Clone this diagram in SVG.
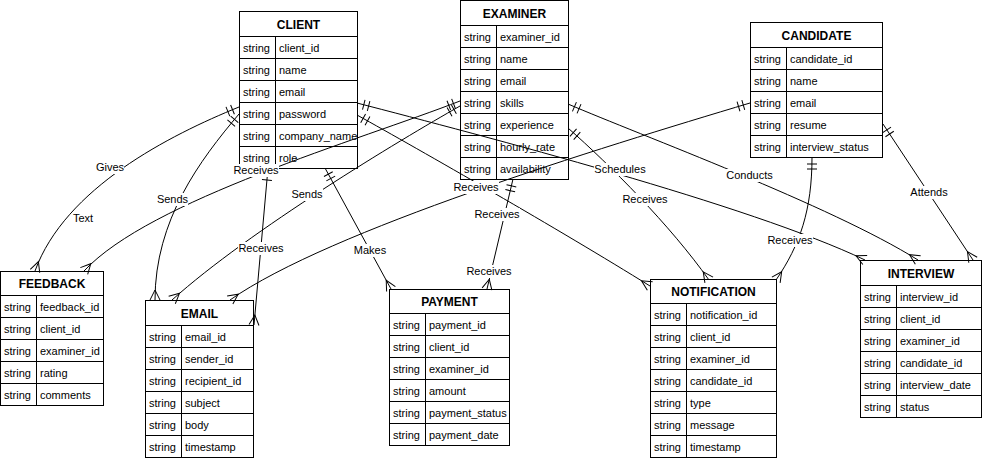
<svg xmlns="http://www.w3.org/2000/svg" width="983" height="459" viewBox="0 0 983 459">
<style>
.box{fill:#fff;stroke:#000;stroke-width:1}
.ln{stroke:#000;stroke-width:1;fill:none}
.hd{font-family:"Liberation Sans",Arial,Helvetica,sans-serif;font-size:12px;font-weight:bold;fill:#000;text-anchor:middle}
.tx{font-family:"Liberation Sans",Arial,Helvetica,sans-serif;font-size:11px;fill:#000}
.edge{stroke:#000;stroke-width:1;fill:none;marker-start:url(#one);marker-end:url(#many)}
.lb{font-family:"Liberation Sans",Arial,Helvetica,sans-serif;font-size:11px;fill:#000;text-anchor:middle}
.lbg{fill:#fff;stroke:none}
</style>
<defs>
<marker id="one" markerWidth="30" markerHeight="30" refX="0" refY="0" orient="auto" markerUnits="userSpaceOnUse" style="overflow:visible">
<path d="M7,-5 V5 M12,-5 V5" stroke="#000" stroke-width="1" fill="none"/>
</marker>
<marker id="many" markerWidth="30" markerHeight="30" refX="0" refY="0" orient="auto" markerUnits="userSpaceOnUse" style="overflow:visible">
<path d="M0,-5 L-10,0 L0,5" stroke="#000" stroke-width="1" fill="none"/>
</marker>
</defs>
<rect width="983" height="459" fill="#fff"/>

<g id="client">
<rect class="box" x="239.5" y="11.5" width="118" height="157"/>
<path class="ln" d="M239.5,36.5H357.5M239.5,58.5H357.5M239.5,80.5H357.5M239.5,102.5H357.5M239.5,124.5H357.5M239.5,146.5H357.5M275.5,36.5V168.5"/>
<text class="hd" x="298.5" y="28.5">CLIENT</text>
<text class="tx" x="243" y="52">string</text><text class="tx" x="279" y="52">client_id</text>
<text class="tx" x="243" y="74">string</text><text class="tx" x="279" y="74">name</text>
<text class="tx" x="243" y="96">string</text><text class="tx" x="279" y="96">email</text>
<text class="tx" x="243" y="118">string</text><text class="tx" x="279" y="118">password</text>
<text class="tx" x="243" y="140">string</text><text class="tx" x="279" y="140">company_name</text>
<text class="tx" x="243" y="162">string</text><text class="tx" x="279" y="162">role</text>
</g>

<g id="examiner">
<rect class="box" x="460.5" y="0.5" width="108" height="179"/>
<path class="ln" d="M460.5,25.5H568.5M460.5,47.5H568.5M460.5,69.5H568.5M460.5,91.5H568.5M460.5,113.5H568.5M460.5,135.5H568.5M460.5,157.5H568.5M496.5,25.5V179.5"/>
<text class="hd" x="514.5" y="17.5">EXAMINER</text>
<text class="tx" x="464" y="41">string</text><text class="tx" x="500" y="41">examiner_id</text>
<text class="tx" x="464" y="63">string</text><text class="tx" x="500" y="63">name</text>
<text class="tx" x="464" y="85">string</text><text class="tx" x="500" y="85">email</text>
<text class="tx" x="464" y="107">string</text><text class="tx" x="500" y="107">skills</text>
<text class="tx" x="464" y="129">string</text><text class="tx" x="500" y="129">experience</text>
<text class="tx" x="464" y="151">string</text><text class="tx" x="500" y="151">hourly_rate</text>
<text class="tx" x="464" y="173">string</text><text class="tx" x="500" y="173">availability</text>
</g>

<g id="candidate">
<rect class="box" x="750.5" y="22.5" width="132" height="135"/>
<path class="ln" d="M750.5,47.5H882.5M750.5,69.5H882.5M750.5,91.5H882.5M750.5,113.5H882.5M750.5,135.5H882.5M786.5,47.5V157.5"/>
<text class="hd" x="816.5" y="39.5">CANDIDATE</text>
<text class="tx" x="754" y="63">string</text><text class="tx" x="790" y="63">candidate_id</text>
<text class="tx" x="754" y="85">string</text><text class="tx" x="790" y="85">name</text>
<text class="tx" x="754" y="107">string</text><text class="tx" x="790" y="107">email</text>
<text class="tx" x="754" y="129">string</text><text class="tx" x="790" y="129">resume</text>
<text class="tx" x="754" y="151">string</text><text class="tx" x="790" y="151">interview_status</text>
</g>

<g id="feedback">
<rect class="box" x="0.5" y="271.5" width="103" height="134"/>
<path class="ln" d="M0.5,295.5H103.5M0.5,317.5H103.5M0.5,339.5H103.5M0.5,361.5H103.5M0.5,383.5H103.5M36.5,295.5V405.5"/>
<text class="hd" x="52" y="288">FEEDBACK</text>
<text class="tx" x="4" y="311">string</text><text class="tx" x="40" y="311">feedback_id</text>
<text class="tx" x="4" y="333">string</text><text class="tx" x="40" y="333">client_id</text>
<text class="tx" x="4" y="355">string</text><text class="tx" x="40" y="355">examiner_id</text>
<text class="tx" x="4" y="377">string</text><text class="tx" x="40" y="377">rating</text>
<text class="tx" x="4" y="399">string</text><text class="tx" x="40" y="399">comments</text>
</g>

<g id="email">
<rect class="box" x="145.5" y="300.5" width="108" height="157"/>
<path class="ln" d="M145.5,325.5H253.5M145.5,347.5H253.5M145.5,369.5H253.5M145.5,391.5H253.5M145.5,413.5H253.5M145.5,435.5H253.5M181.5,325.5V457.5"/>
<text class="hd" x="199.5" y="317.5">EMAIL</text>
<text class="tx" x="149" y="341">string</text><text class="tx" x="185" y="341">email_id</text>
<text class="tx" x="149" y="363">string</text><text class="tx" x="185" y="363">sender_id</text>
<text class="tx" x="149" y="385">string</text><text class="tx" x="185" y="385">recipient_id</text>
<text class="tx" x="149" y="407">string</text><text class="tx" x="185" y="407">subject</text>
<text class="tx" x="149" y="429">string</text><text class="tx" x="185" y="429">body</text>
<text class="tx" x="149" y="451">string</text><text class="tx" x="185" y="451">timestamp</text>
</g>

<g id="payment">
<rect class="box" x="389.5" y="289.5" width="120" height="156"/>
<path class="ln" d="M389.5,313.5H509.5M389.5,335.5H509.5M389.5,357.5H509.5M389.5,379.5H509.5M389.5,401.5H509.5M389.5,423.5H509.5M425.5,313.5V445.5"/>
<text class="hd" x="449.5" y="306">PAYMENT</text>
<text class="tx" x="393" y="329">string</text><text class="tx" x="429" y="329">payment_id</text>
<text class="tx" x="393" y="351">string</text><text class="tx" x="429" y="351">client_id</text>
<text class="tx" x="393" y="373">string</text><text class="tx" x="429" y="373">examiner_id</text>
<text class="tx" x="393" y="395">string</text><text class="tx" x="429" y="395">amount</text>
<text class="tx" x="393" y="417">string</text><text class="tx" x="429" y="417">payment_status</text>
<text class="tx" x="393" y="439">string</text><text class="tx" x="429" y="439">payment_date</text>
</g>

<g id="notification">
<rect class="box" x="650.5" y="279.5" width="126" height="178"/>
<path class="ln" d="M650.5,303.5H776.5M650.5,325.5H776.5M650.5,347.5H776.5M650.5,369.5H776.5M650.5,391.5H776.5M650.5,413.5H776.5M650.5,435.5H776.5M686.5,303.5V457.5"/>
<text class="hd" x="713.5" y="296">NOTIFICATION</text>
<text class="tx" x="654" y="319">string</text><text class="tx" x="690" y="319">notification_id</text>
<text class="tx" x="654" y="341">string</text><text class="tx" x="690" y="341">client_id</text>
<text class="tx" x="654" y="363">string</text><text class="tx" x="690" y="363">examiner_id</text>
<text class="tx" x="654" y="385">string</text><text class="tx" x="690" y="385">candidate_id</text>
<text class="tx" x="654" y="407">string</text><text class="tx" x="690" y="407">type</text>
<text class="tx" x="654" y="429">string</text><text class="tx" x="690" y="429">message</text>
<text class="tx" x="654" y="451">string</text><text class="tx" x="690" y="451">timestamp</text>
</g>

<g id="interview">
<rect class="box" x="860.5" y="260.5" width="121" height="157"/>
<path class="ln" d="M860.5,285.5H981.5M860.5,307.5H981.5M860.5,329.5H981.5M860.5,351.5H981.5M860.5,373.5H981.5M860.5,395.5H981.5M896.5,285.5V417.5"/>
<text class="hd" x="921" y="277.5">INTERVIEW</text>
<text class="tx" x="864" y="301">string</text><text class="tx" x="900" y="301">interview_id</text>
<text class="tx" x="864" y="323">string</text><text class="tx" x="900" y="323">client_id</text>
<text class="tx" x="864" y="345">string</text><text class="tx" x="900" y="345">examiner_id</text>
<text class="tx" x="864" y="367">string</text><text class="tx" x="900" y="367">candidate_id</text>
<text class="tx" x="864" y="389">string</text><text class="tx" x="900" y="389">interview_date</text>
<text class="tx" x="864" y="411">string</text><text class="tx" x="900" y="411">status</text>
</g>

<g id="connectors">
<path class="edge" d="M239,107 C170,135 65,188 35,271"/>
<path class="edge" d="M239,114 C200,160 155,220 155,300"/>
<path class="edge" d="M460,101 C360,140 150,200 84,271"/>
<path class="edge" d="M268,168 L254,325"/>
<path class="edge" d="M460,106 C400,140 250,230 172,300"/>
<path class="edge" d="M750,103 C600,148 330,230 230,300"/>
<path class="edge" d="M357,115 C420,150 560,230 650,286"/>
<path class="edge" d="M357,103 C480,135 750,205 865,260"/>
<path class="edge" d="M325,168 L391,289"/>
<path class="edge" d="M513,179 L487,289"/>
<path class="edge" d="M568,104 C640,135 830,205 918,260"/>
<path class="edge" d="M568,128 C610,165 670,225 709,280"/>
<path class="edge" d="M812,157 C812,210 800,245 776,280"/>
<path class="edge" d="M883,124 L973,260"/>
</g>

<g id="labels">
<rect class="lbg" x="96" y="161" width="28" height="13"/><text class="lb" x="110" y="171">Gives</text>
<rect class="lbg" x="72" y="212" width="22" height="13"/><text class="lb" x="83" y="222">Text</text>
<rect class="lbg" x="157" y="193" width="31" height="13"/><text class="lb" x="172.5" y="203">Sends</text>
<rect class="lbg" x="233" y="164" width="46" height="13"/><text class="lb" x="256" y="174">Receives</text>
<rect class="lbg" x="291" y="188" width="32" height="13"/><text class="lb" x="307" y="198">Sends</text>
<rect class="lbg" x="238" y="242" width="46" height="13"/><text class="lb" x="261" y="252">Receives</text>
<rect class="lbg" x="353" y="244" width="34" height="13"/><text class="lb" x="370" y="254">Makes</text>
<rect class="lbg" x="453" y="181" width="46" height="13"/><text class="lb" x="476" y="191">Receives</text>
<rect class="lbg" x="474" y="208" width="46" height="13"/><text class="lb" x="497" y="218">Receives</text>
<rect class="lbg" x="466" y="265" width="46" height="13"/><text class="lb" x="489" y="275">Receives</text>
<rect class="lbg" x="594" y="163" width="52" height="13"/><text class="lb" x="620" y="173">Schedules</text>
<rect class="lbg" x="622" y="193" width="46" height="13"/><text class="lb" x="645" y="203">Receives</text>
<rect class="lbg" x="726" y="169" width="47" height="13"/><text class="lb" x="749.5" y="179">Conducts</text>
<rect class="lbg" x="767" y="234" width="46" height="13"/><text class="lb" x="790" y="244">Receives</text>
<rect class="lbg" x="910" y="186" width="38" height="13"/><text class="lb" x="929" y="196">Attends</text>
</g>
</svg>
